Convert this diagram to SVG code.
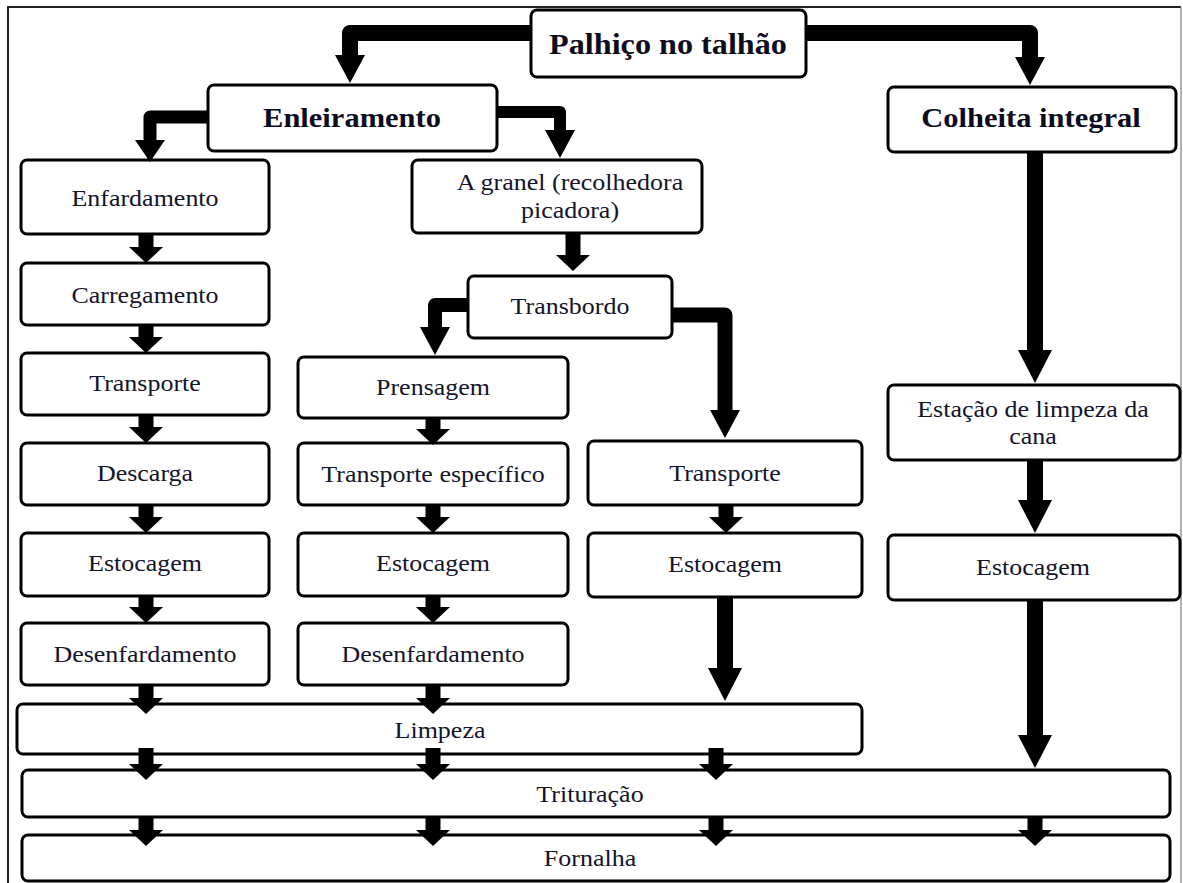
<svg xmlns="http://www.w3.org/2000/svg" width="1183" height="883" viewBox="0 0 1183 883">
<style>
.box{fill:#fff;stroke:#000;stroke-width:3}
.t{font-family:"Liberation Serif","Times New Roman",serif;font-size:23px;fill:#14142a;text-anchor:middle}
.b{font-family:"Liberation Serif","Times New Roman",serif;font-size:27px;font-weight:bold;fill:#0c0c1e;text-anchor:middle}
.c{fill:none;stroke:#000;stroke-linejoin:round}
.s{stroke-width:15;marker-end:url(#hs)}
.L{stroke-width:16;marker-end:url(#hl)}
</style>
<defs>
<marker id="hs" markerUnits="userSpaceOnUse" markerWidth="17" markerHeight="34" refX="0" refY="17" orient="auto" overflow="visible"><path d="M0,0 L16,17 L0,34 Z" fill="#000"/></marker>
<marker id="hl" markerUnits="userSpaceOnUse" markerWidth="33" markerHeight="34" refX="0" refY="17" orient="auto" overflow="visible"><path d="M0,0 L33,17 L0,34 Z" fill="#000"/></marker>
<marker id="hm" markerUnits="userSpaceOnUse" markerWidth="28" markerHeight="30" refX="0" refY="15" orient="auto" overflow="visible"><path d="M0,0 L28,15 L0,30 Z" fill="#000"/></marker>
<marker id="hn" markerUnits="userSpaceOnUse" markerWidth="22" markerHeight="30" refX="0" refY="15" orient="auto" overflow="visible"><path d="M0,0 L22,15 L0,30 Z" fill="#000"/></marker>
</defs>
<rect width="1183" height="883" fill="#fff"/>
<path d="M8,890 V7 H1181" fill="none" stroke="#222" stroke-width="2"/>
<path d="M1181,7 V890" fill="none" stroke="#999" stroke-width="1.5"/>

<g id="palhico"><rect class="box" x="531" y="10" width="275" height="67" rx="6"/><text class="b" style="font-size:28.5px" transform="translate(668,54) scale(1.13,1)">Palhiço no talhão</text></g>
<g id="enleiramento"><rect class="box" x="208" y="85" width="289" height="66" rx="6"/><text class="b" transform="translate(352,127) scale(1.13,1)">Enleiramento</text></g>
<g id="colheita"><rect class="box" x="888" y="87" width="288" height="65" rx="6"/><text class="b" transform="translate(1031,127) scale(1.13,1)">Colheita integral</text></g>

<g id="enfardamento"><rect class="box" x="21" y="160" width="248" height="74" rx="6"/><text class="t" transform="translate(145,206) scale(1.13,1)">Enfardamento</text></g>
<g id="carregamento"><rect class="box" x="21" y="263" width="248" height="62" rx="6"/><text class="t" transform="translate(145,303) scale(1.13,1)">Carregamento</text></g>
<g id="transporte1"><rect class="box" x="21" y="353" width="248" height="62" rx="6"/><text class="t" transform="translate(145,391) scale(1.13,1)">Transporte</text></g>
<g id="descarga"><rect class="box" x="21" y="443" width="248" height="62" rx="6"/><text class="t" transform="translate(145,481) scale(1.13,1)">Descarga</text></g>
<g id="estocagem1"><rect class="box" x="21" y="533" width="248" height="63" rx="6"/><text class="t" transform="translate(145,571) scale(1.13,1)">Estocagem</text></g>
<g id="desenfardamento1"><rect class="box" x="21" y="623" width="248" height="62" rx="6"/><text class="t" transform="translate(145,662) scale(1.13,1)">Desenfardamento</text></g>

<g id="granel"><rect class="box" x="412" y="160" width="290" height="73" rx="6"/><text class="t" transform="translate(570,190) scale(1.13,1)">A granel (recolhedora</text><text class="t" transform="translate(570,218) scale(1.13,1)">picadora)</text></g>
<g id="transbordo"><rect class="box" x="468" y="276" width="204" height="62" rx="6"/><text class="t" transform="translate(570,314) scale(1.13,1)">Transbordo</text></g>

<g id="prensagem"><rect class="box" x="298" y="357" width="270" height="61" rx="6"/><text class="t" transform="translate(433,395) scale(1.13,1)">Prensagem</text></g>
<g id="transporte-especifico"><rect class="box" x="298" y="443" width="270" height="62" rx="6"/><text class="t" transform="translate(433,482) scale(1.13,1)">Transporte específico</text></g>
<g id="estocagem2"><rect class="box" x="298" y="533" width="270" height="63" rx="6"/><text class="t" transform="translate(433,571) scale(1.13,1)">Estocagem</text></g>
<g id="desenfardamento2"><rect class="box" x="298" y="623" width="270" height="62" rx="6"/><text class="t" transform="translate(433,662) scale(1.13,1)">Desenfardamento</text></g>

<g id="transporte3"><rect class="box" x="588" y="441" width="274" height="64" rx="6"/><text class="t" transform="translate(725,481) scale(1.13,1)">Transporte</text></g>
<g id="estocagem3"><rect class="box" x="588" y="533" width="274" height="64" rx="6"/><text class="t" transform="translate(725,572) scale(1.13,1)">Estocagem</text></g>

<g id="estacao"><rect class="box" x="888" y="385" width="292" height="75" rx="6"/><text class="t" transform="translate(1033,417) scale(1.13,1)">Estação de limpeza da</text><text class="t" transform="translate(1033,444) scale(1.13,1)">cana</text></g>
<g id="estocagem4"><rect class="box" x="888" y="535" width="292" height="65" rx="6"/><text class="t" transform="translate(1033,575) scale(1.13,1)">Estocagem</text></g>

<g id="limpeza"><rect class="box" x="17" y="704" width="845" height="50" rx="6"/><text class="t" transform="translate(440,738) scale(1.13,1)">Limpeza</text></g>
<g id="trituracao"><rect class="box" x="22" y="770" width="1148" height="47" rx="6"/><text class="t" transform="translate(590,802) scale(1.13,1)">Trituração</text></g>
<g id="fornalha"><rect class="box" x="22" y="835" width="1148" height="46" rx="6"/><text class="t" transform="translate(590,866) scale(1.13,1)">Fornalha</text></g>

<g id="connectors">
<path class="c" d="M531,33 H350 V55" stroke-width="16" marker-end="url(#hm)"/>
<path class="c" d="M806,33 H1030 V57" stroke-width="16" marker-end="url(#hm)"/>
<path class="c" d="M208,117 H150 V140" stroke-width="13" marker-end="url(#hn)"/>
<path class="c" d="M497,112 H560 V130" stroke-width="12" marker-end="url(#hm)"/>
<path class="c s" d="M573,233 V255"/>
<path class="c" d="M468,305 H435 V327" stroke-width="14" marker-end="url(#hm)"/>
<path class="c" d="M672,315 H725 V410" stroke-width="15" marker-end="url(#hm)"/>
<path class="c L" d="M1035,152 V350"/>
<path class="c L" d="M1035,460 V500"/>
<path class="c L" d="M1035,600 V735"/>
<path class="c L" d="M725,597 V668"/>
<path class="c s" d="M146,234 V247"/>
<path class="c s" d="M146,325 V337"/>
<path class="c s" d="M146,415 V427"/>
<path class="c s" d="M146,505 V517"/>
<path class="c s" d="M146,596 V607"/>
<path class="c s" d="M146,685 V698"/>
<path class="c s" d="M146,748 V764"/>
<path class="c s" d="M146,817 V830"/>
<path class="c s" d="M433,418 V429"/>
<path class="c s" d="M433,505 V517"/>
<path class="c s" d="M433,596 V607"/>
<path class="c s" d="M433,685 V698"/>
<path class="c s" d="M433,748 V764"/>
<path class="c s" d="M433,817 V830"/>
<path class="c s" d="M726,505 V517"/>
<path class="c s" d="M716,748 V764"/>
<path class="c s" d="M716,817 V830"/>
<path class="c s" d="M1035,817 V830"/>
</g>
</svg>
